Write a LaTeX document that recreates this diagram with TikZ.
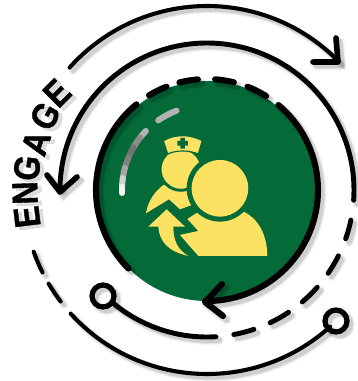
\documentclass[tikz,border=0pt]{standalone}
\usepackage{fontspec}
\setmainfont{Liberation Sans}
\newfontfamily\engagefont[BoldFeatures={FakeBold=1,FakeStretch=0.88}]{Liberation Sans}
\definecolor{ringgreen}{HTML}{046A38}
\definecolor{iconyellow}{HTML}{FBE263}
\begin{document}
\begin{tikzpicture}[
  x=0.03cm, y=-0.03cm,
  softshadow/.style={
    preaction={draw, black, opacity=.04, line width=#1+3.5pt, line cap=round, transform canvas={xshift=3pt, yshift=-3pt}},
    preaction={draw, black, opacity=.07, line width=#1+1.5pt, line cap=round, transform canvas={xshift=3pt, yshift=-3pt}},
    preaction={draw, black, opacity=.09, line width=#1, line cap=round, transform canvas={xshift=3pt, yshift=-3pt}},
    draw, black, line width=#1, line cap=round, line join=round},
  innerline/.style={softshadow=5.2pt},
  midline/.style={softshadow=4.2pt},
  outerline/.style={softshadow=3.5pt},
  headline/.style={softshadow=4.8pt},
  knob/.style={softshadow=4.5pt, fill=none},
  iconpart/.style={fill=iconyellow},
  lettering/.style={font=\engagefont\fontsize{31}{31}\selectfont\bfseries, inner sep=0pt},
]
  \useasboundingbox (0,0) rectangle (358,381);
  \coordinate (hub) at (207,190);

  % Green disc
  \fill[ringgreen] (207,191) circle[radius=110];

  % Gloss on the disc
  \foreach \a/\b/\c in {-136/-142/30,-142/-150/45,-150/-158/55,-158/-165/50,-165/-172/35,-172/-178/18,-178/-182/5}
    \draw[black!\c, line width=5.2pt, line cap=round] (hub) ++(\a:85) arc[start angle=\a, end angle=\b, radius=85];
  \draw[black!30, line width=5.2pt, line cap=round] (hub) ++(-125:85) arc[start angle=-125, end angle=-111, radius=85];

  % Nurse
  \begin{scope}[shift={(130,120)}, x=0.01cm, y=-0.01cm]
    \fill[iconyellow] (48,280) .. controls (55,240) and (75,215) .. (100,195) -- (200,190) -- (200,250)
      -- (150,268) -- (117,238) -- cycle;
    \filldraw[iconpart, draw=ringgreen, line width=2.5pt] (153,148) circle[radius=63];
    \filldraw[iconpart, draw=ringgreen, line width=1pt] (100,62) .. controls (135,42) and (180,42) .. (217,62)
      -- (205,102) .. controls (175,90) and (140,90) .. (113,102) -- cycle;
    \fill[ringgreen] (151,54) rectangle (165,86) (142,63) rectangle (174,77);

    % Arrow
    \fill[iconyellow] (110,268) -- (165,320) -- (130,320) .. controls (130,365) and (145,390) .. (175,408)
      .. controls (115,395) and (88,365) .. (85,320) -- (55,320) -- cycle;

    % Patient
    \fill[iconyellow] (172,297) -- (215,270) -- (340,275) .. controls (385,295) and (412,345) .. (412,408)
      -- (205,408) -- (150,345) -- (205,333) -- cycle;
    \fill[ringgreen] (270,205) circle[radius=100];
    \fill[iconyellow] (270,205) circle[radius=85];
  \end{scope}

  % Ring on the disc
  \draw[innerline] (hub) ++(-129.5:111) arc[start angle=-129.5, end angle=-225, radius=111];
  \foreach \a/\b in {-121.5/-111.4,-104.4/-94.7,-85.8/-76,-68.6/-57.8}
    \draw[innerline] (hub) ++(\a:111) arc[start angle=\a, end angle=\b, radius=111];
  \draw[innerline] (hub) ++(-50:111) arc[start angle=-50, end angle=91, radius=111];
  \draw[innerline] (222,284) -- (205,302) -- (223,316);

  % Middle ring
  \draw[midline] (hub) ++(-179.2:147) arc[start angle=-179.2, end angle=4, radius=147];
  \draw[headline] (47,175) -- (60,192) -- (77,177);
  \foreach \a/\b in {11.8/19.4,26.6/34.5,41.4/49.6,56.3/64.6,71.4/79.5}
    \draw[midline] (hub) ++(\a:147) arc[start angle=\a, end angle=\b, radius=147];
  \draw[midline] (hub) ++(86.5:147) arc[start angle=86.5, end angle=130, radius=147];
  \draw[knob] (103,296) circle[radius=11];

  % Outer ring
  \draw[outerline] (hub) ++(-138.3:184) arc[start angle=-138.3, end angle=-44.3, radius=184];
  \draw[headline] (336,38) -- (338,62) -- (313,62);
  \draw[outerline] (hub) ++(48:184) arc[start angle=48, end angle=137.8, radius=184];
  \foreach \a/\b in {160.4/153.4,149.4/142.7}
    \draw[outerline] (hub) ++(\a:184) arc[start angle=\a, end angle=\b, radius=184];
  \draw[knob] (336,321) circle[radius=11];

  % Lettering
  \foreach \ch/\px/\py/\rot [count=\i] in {E/27/217/97,N/25/193/92,G/27/168/82,A/36/143/72,G/45/116/60,E/57/93/45} {
    \node[lettering, black, opacity=.13, rotate=\rot] (shade\i) at (\px+4,\py+3) {\ch};
    \node[lettering, black, rotate=\rot] (letter\i) at (\px,\py) {\ch};
  }
\end{tikzpicture}
\end{document}
